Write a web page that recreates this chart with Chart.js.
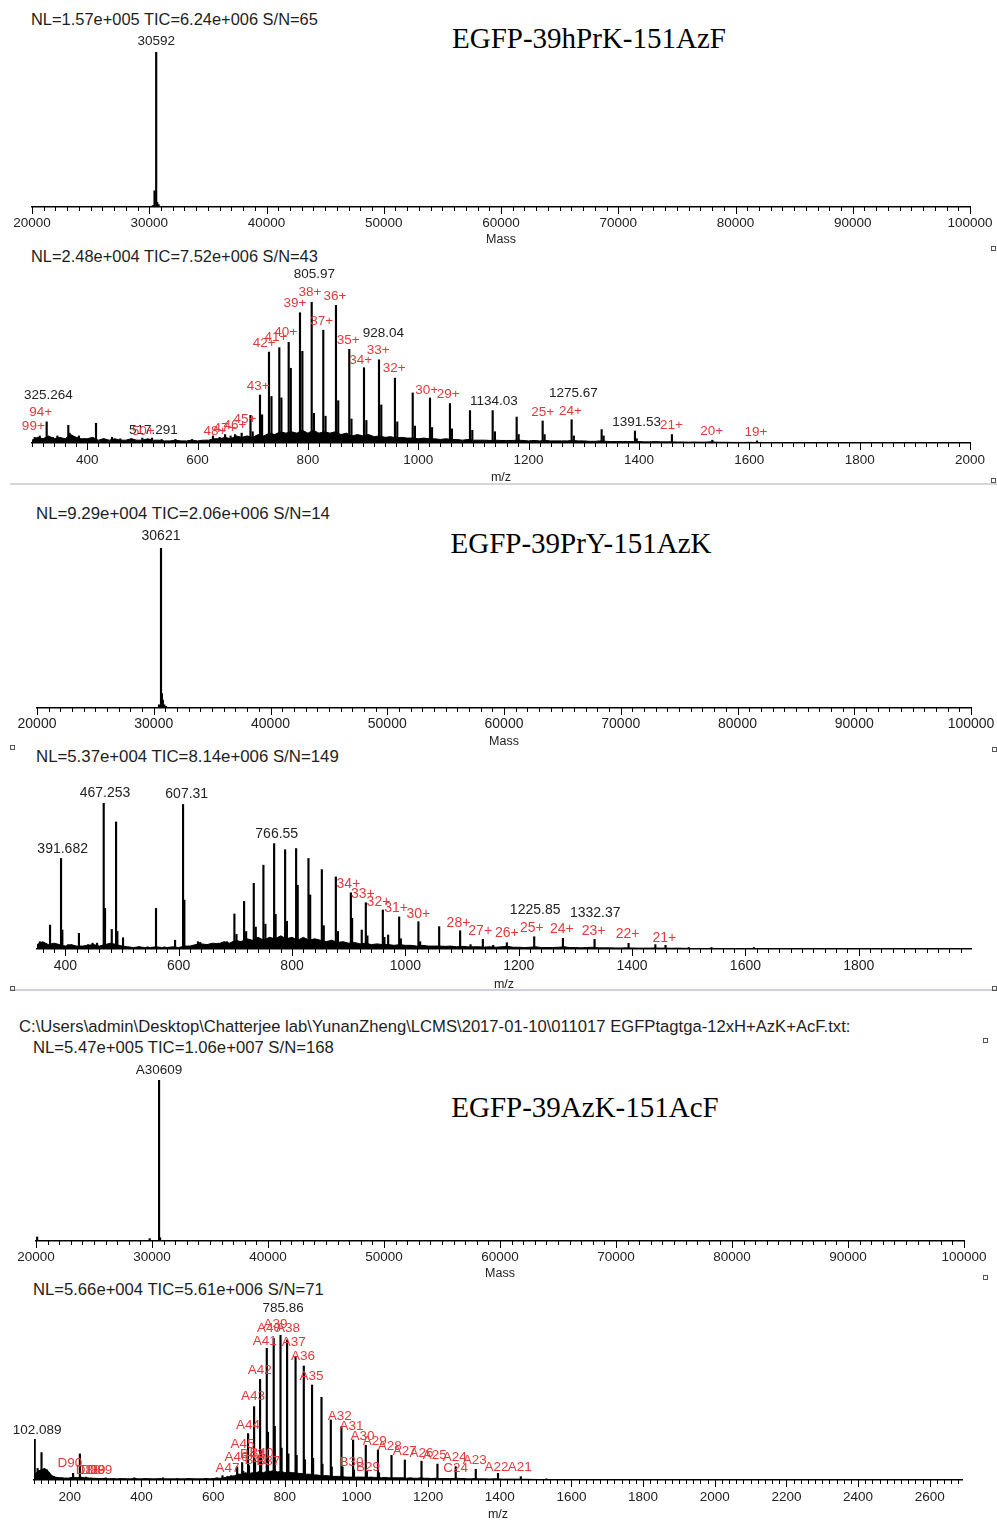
<!DOCTYPE html>
<html>
<head>
<meta charset="utf-8">
<script src="https://cdn.jsdelivr.net/npm/chart.js@4.4.0/dist/chart.umd.min.js"></script>
<style>
  body { margin: 0; background: #fff; width: 997px; height: 1521px; position: relative; overflow: hidden;
         font-family: "Liberation Sans", Arial, sans-serif; }
  canvas { position: absolute; }
  .hdr { position: absolute; display: inline-block; white-space: nowrap; font-size: 16px; line-height: 20px; color: #1e1e1e; }
  .ttl { position: absolute; white-space: nowrap; font-family: "Liberation Serif", "Times New Roman", serif;
         font-size: 29px; line-height: 34px; color: #000; transform: translateX(-50%); }
  .sep { position: absolute; left: 10px; width: 987px; height: 2px; }
  .mk { position: absolute; width: 3px; height: 3px; border: 1px solid #555; }
</style>
</head>
<body>

<div class="hdr" style="left:31px; top:9px" data-w="287">NL=1.57e+005 TIC=6.24e+006 S/N=65</div>
<div class="ttl" style="left:589px; top:21px">EGFP-39hPrK-151AzF</div>
<div class="hdr" style="left:31px; top:246px" data-w="287">NL=2.48e+004 TIC=7.52e+006 S/N=43</div>
<div class="sep" style="top:483px; background:#d6d6d6"></div>

<div class="hdr" style="left:36px; top:504px" data-w="294">NL=9.29e+004 TIC=2.06e+006 S/N=14</div>
<div class="ttl" style="left:581px; top:526px">EGFP-39PrY-151AzK</div>
<div class="hdr" style="left:36px; top:747px" data-w="303">NL=5.37e+004 TIC=8.14e+006 S/N=149</div>
<div class="sep" style="top:989px; background:#cbd3de"></div>

<div class="hdr" style="left:19px; top:1017px" data-w="832">C:\Users\admin\Desktop\Chatterjee lab\YunanZheng\LCMS\2017-01-10\011017 EGFPtagtga-12xH+AzK+AcF.txt:</div>
<div class="hdr" style="left:33px; top:1038px" data-w="301">NL=5.47e+005 TIC=1.06e+007 S/N=168</div>
<div class="ttl" style="left:585px; top:1090px">EGFP-39AzK-151AcF</div>
<div class="hdr" style="left:33px; top:1280px" data-w="291">NL=5.66e+004 TIC=5.61e+006 S/N=71</div>

<div class="mk" style="left:991px; top:246px"></div>
<div class="mk" style="left:991px; top:478px"></div>
<div class="mk" style="left:992px; top:747px"></div>
<div class="mk" style="left:992px; top:986px"></div>
<div class="mk" style="left:10px; top:745px"></div>
<div class="mk" style="left:10px; top:986px"></div>
<div class="mk" style="left:983px; top:1038px"></div>
<div class="mk" style="left:983px; top:1275px"></div>

<script>
// ---- deconvoluted mass spectra (relative intensity, %)
const mass1 = [30300, 30450, 30592, 30680, 30800];
const int1 = [1, 10.5, 100, 3, 1.5];
const mass3 = [30450, 30621, 30700, 30780, 30900, 31050];
const int3 = [2, 100, 9, 5, 2, 1];
const mass5 = [20100, 29800, 30609, 30700];
const int5 = [2.5, 1.5, 100, 2];

// ---- m/z spectrum, EGFP-39hPrK-151AzF
const mz2 = [305, 314, 326.6, 338, 346, 353, 365.8, 368, 376, 385, 395, 416, 430, 445, 460, 480, 500, 517.5, 535, 560, 590,
  628, 640, 650, 660, 668, 680, 696, 700, 713.2, 717, 729.5, 734, 748.2, 752, 765.2, 769, 785.7, 790, 806.9, 811,
  827.9, 832, 850.9, 855, 875, 879, 901.7, 906, 928.9, 933, 957.8, 962, 990, 994, 1021.3, 1025, 1057.5, 1061,
  1093.8, 1098, 1134.9, 1139, 1178.4, 1182, 1225.5, 1229, 1278, 1282, 1332.4, 1336, 1392.8, 1396, 1459.8, 1533, 1614];
const int2 = [4, 5, 15, 4, 5, 3, 12.5, 7, 4, 5, 3, 14, 3, 4, 3, 3, 3.5, 3.5, 2.5, 2.5, 2.5,
  5, 4, 6, 5, 6, 7, 19.6, 8, 34, 20, 64.5, 33, 67.6, 32, 71.4, 53, 92.4, 65, 100, 21,
  80, 19, 97.6, 30, 66.4, 17, 53.4, 16, 59, 27, 46, 15, 35.5, 12, 32, 11, 28, 10,
  23, 9, 23, 8, 18.4, 6, 15.6, 6, 16.5, 5, 9.5, 5, 8.5, 3, 6, 2, 1.5];
const noise2Start = 300, noise2Step = 10;
const noise2 = [2, 4, 3, 5, 3, 4, 3, 6, 4, 3,
  3, 4, 2, 3, 2, 3, 2, 2, 3, 2,
  2, 3, 2, 2, 1.5, 1.5, 2, 1.5, 1.5, 2,
  1.5, 2, 2, 3, 3, 4, 3, 5, 4, 5,
  4, 6, 5, 7, 6, 8, 7, 8, 7, 9,
  7, 9, 7, 8, 7, 8, 6, 7, 5, 6,
  5, 6, 4.5, 5, 4, 4.5, 3.5, 4, 3.5, 3.5,
  3, 3.5, 3, 3, 2.5, 3, 2.5, 2.5, 2, 2.5,
  2, 2, 2, 1.8, 2, 1.8, 1.8, 1.8, 2, 1.8,
  1.5, 1.8, 1.5, 1.8, 1.5, 1.5, 1.5, 1.5, 1.8, 1.5,
  1.5, 1.2, 1.2, 1.5, 1.2, 1, 1, 1, 1, 1,
  1, 0.8, 0.8, 1, 0.8, 0.8, 0.8, 0.7, 0.7, 0.6,
  0.7, 0.6, 0.6, 0.8, 0.6, 0.5, 0.5, 0.4, 0.4, 0.4,
  0.5, 0.4, 0.4, 0.3, 0.2, 0];
const black2 = [[329.6, 34, '325.264'], [520, 9.2, '517.291'], [811.6, 120, '805.97'], [936.7, 77.8, '928.04'],
  [1137, 29.8, '1134.03'], [1281, 35.2, '1275.67'], [1395.8, 14.7, '1391.53']];
const red2 = [[315.7, 21.5, '94+'], [302.4, 11.6, '99+'], [501.7, 8, '50+'], [631.6, 8.5, '48+'], [649.8, 10.4, '47+'],
  [668, 12.8, '46+'], [686, 17, '45+'], [710, 40, '43+'], [721, 71, '42+'], [742, 75, '41+'], [760, 78.2, '40+'],
  [776.6, 99, '39+'], [803.8, 107, '38+'], [825, 86.5, '37+'], [849, 103.8, '36+'], [873, 73, '35+'],
  [895.6, 58.9, '34+'], [927.6, 65.5, '33+'], [956.6, 52.7, '32+'], [1015.3, 37.6, '30+'], [1054.5, 34.8, '29+'],
  [1225.5, 21.8, '25+'], [1276, 22.7, '24+'], [1459, 12.8, '21+'], [1531.8, 8, '20+'], [1612, 7.3, '19+']];

// ---- m/z spectrum, EGFP-39PrY-151AzK
const mz4 = [355, 360, 373, 380, 392.4, 394.7, 405, 424, 440, 448, 456, 467.7, 470, 481.9, 489.5, 491.8, 501.8, 530, 545,
  560, 575, 593.6, 607.7, 610, 634, 638, 650, 670, 685, 698.3, 702, 715.4, 719, 732.5, 736, 749.5, 753, 768.4, 771,
  787.8, 791, 807.2, 810, 829, 832, 852.6, 856, 877.3, 881, 903.8, 906, 923, 930.2, 933, 960.2, 963, 969.6, 989, 992,
  1023, 1026, 1059.6, 1096.6, 1115, 1136.7, 1155, 1179, 1227.3, 1278, 1333.8, 1393.8, 1441, 1459, 1500, 1540, 1615];
const int4 = [5, 4, 16.4, 3, 62, 13, 3, 10.7, 3, 4, 4, 100, 27.8, 13.4, 87, 12, 7.7, 1.5, 1.5,
  27.8, 1.5, 6, 99, 33.5, 5, 4.5, 3, 4, 5, 24, 10, 32.6, 12, 45, 15, 57.4, 17, 72.2, 23.7,
  68, 19, 68.8, 43.7, 62, 37, 54.4, 16, 49.4, 12, 38.5, 21, 13, 31.7, 9, 26.7, 8, 9.6, 22, 7,
  18.7, 5, 15.3, 12.5, 3, 6.6, 2.5, 4.3, 8.4, 7.3, 6.6, 3.9, 3, 2.5, 1, 1, 1];
const noise4Start = 350, noise4Step = 10;
const noise4 = [3, 5, 3, 4, 3, 2, 3, 2, 2, 2.5,
  3, 2, 3, 4, 3, 2, 1.5, 1, 1.5, 1,
  1, 1.5, 1, 1, 1.5, 1, 2, 2, 3, 3.5,
  3, 4, 3.5, 5, 4, 6, 5, 7, 6, 8,
  6, 8, 7, 9, 7, 8, 6, 8, 6, 7,
  6, 5, 6, 4.5, 5, 4, 4.5, 3.5, 4, 3,
  3.5, 3, 3, 2.5, 3, 2.5, 2.5, 2, 2.5, 2,
  2, 2, 1.8, 2, 1.5, 1.8, 1.5, 1.5, 1.5, 1.3,
  1.5, 1.2, 1.5, 1.8, 1.2, 1.2, 1, 1.2, 1.5, 1,
  1, 1, 1.2, 1.5, 1, 1, 0.8, 1, 1.2, 0.8,
  0.8, 0.8, 0.7, 0.7, 0.8, 0.7, 0.6, 0.6, 0.6, 0.7,
  0.6, 0.6, 0.5, 0.6, 0.5, 0.4, 0.3, 0.4, 0.3, 0.4,
  0.3, 0.3, 0.2, 0.2, 0.2, 0.2, 0.2, 0];
const black4 = [[395.3, 68.3, '391.682'], [470, 106.6, '467.253'], [614.2, 106, '607.31'], [773, 78.8, '766.55'],
  [1229, 26.7, '1225.85'], [1335, 24.9, '1332.37']];
const red4 = [[899.5, 44.5, '34+'], [925, 37.7, '33+'], [952.5, 32.4, '32+'], [983.7, 27.9, '31+'], [1023, 24, '30+'],
  [1093.7, 18, '28+'], [1132, 12.5, '27+'], [1179, 11.2, '26+'], [1223, 14.6, '25+'], [1276, 13.5, '24+'],
  [1332, 12.3, '23+'], [1392, 10, '22+'], [1457, 7.7, '21+']];

// ---- m/z spectrum, EGFP-39AzK-151AcF
const mz6 = [102, 110, 116, 121, 125, 128, 132, 136, 140, 145, 155, 175, 190, 209, 228, 245, 260, 300, 340, 380, 420,
  460, 500, 540, 580, 610, 626, 640, 650, 667, 681, 684, 697.5, 700, 714.3, 717, 731, 734, 749.7, 753, 769, 772,
  788, 791, 806.4, 810, 830, 833, 853, 856, 876, 879, 902.4, 905, 928.4, 931, 958, 961, 990.6, 993, 1026, 1029,
  1060, 1063, 1097.8, 1135, 1181.5, 1226, 1277, 1333, 1395, 1458.6, 1530];
const int6 = [28, 8, 5, 18.9, 7, 7.5, 6.5, 7, 5, 3, 2, 1.5, 1.5, 4.6, 18, 2, 1.5, 1.5, 1, 1.5, 1,
  1.5, 1, 1, 1, 1.5, 3, 2.5, 3, 9, 12, 6, 32, 10, 50.6, 14, 69.4, 20, 90.8, 33, 97.7, 37,
  100, 22, 96.6, 18, 85, 17, 78.6, 14, 65.5, 15, 57, 11, 41.4, 9, 36.8, 9, 27.6, 7, 24, 6,
  20.7, 5, 17, 13.8, 13, 11, 9.2, 7.4, 4.6, 2.3, 0.8];
const noise6Start = 100, noise6Step = 10;
const noise6 = [3, 6, 7, 8, 6, 3, 2, 1.5, 1.5, 1,
  1.5, 2, 1.5, 2, 1.5, 1.5, 1, 1.2, 1, 1,
  1, 0.8, 1, 0.8, 0.8, 1, 0.8, 0.8, 1, 0.8,
  0.8, 1, 0.8, 0.8, 0.8, 1, 0.8, 0.8, 0.8, 0.8,
  0.8, 0.8, 0.8, 1, 0.8, 0.8, 0.8, 0.8, 1, 0.8,
  1, 1.2, 1.2, 1.5, 2, 2.5, 3, 4, 4, 5,
  4.5, 5, 5, 6, 5, 6, 6, 6.5, 5.5, 6,
  5, 5.5, 5, 5, 4.5, 4.5, 4, 4, 3.5, 3.5,
  3, 3, 3, 2.5, 2.5, 2.5, 2.5, 2, 2, 2,
  2, 2, 2, 1.8, 2, 1.8, 1.8, 1.5, 1.8, 1.5,
  1.5, 1.5, 1.5, 1.5, 1.2, 1.5, 1.2, 1.2, 1.5, 1.2,
  1.2, 1, 1.2, 1, 1, 1, 1, 1, 1.2, 1,
  1, 0.8, 0.8, 1, 0.8, 0.8, 0.8, 0.7, 0.8, 0.8,
  0.7, 0.6, 0.6, 0.6, 0.6, 0.6, 0.5, 0.5, 0.5, 0.4,
  0.4, 0.3, 0.3, 0.3, 0.2, 0];
const black6 = [[108.7, 34, '102.089'], [795.3, 118.4, '785.86']];
const red6 = [[200, 11.5, 'D90'], [251, 6.4, 'D88'], [265, 6.4, 'D89'], [283.6, 6.4, 'D89'],
  [640, 8, 'A47'], [665, 16, 'A46'], [682, 24.8, 'A45'], [697.6, 37.9, 'A44'], [711.5, 57.5, 'A43'],
  [730, 75.9, 'A42'], [744, 96, 'A41'], [756, 104.6, 'A40'], [774, 107.6, 'A39'], [809, 104.6, 'A38'],
  [825, 95, 'A37'], [851, 85, 'A36'], [874.5, 71.2, 'A35'], [953.5, 44, 'A32'], [986, 37.2, 'A31'],
  [1017, 29.9, 'A30'], [1051, 26.4, 'A29'], [1093, 23, 'A28'], [1135, 19.5, 'A27'], [1181.5, 18.4, 'A26'],
  [1218.6, 17.2, 'A25'], [1274, 16, 'A24'], [1330, 13.3, 'A23'], [1390.8, 8.5, 'A22'], [1456, 8.5, 'A21'],
  [986, 12, 'B30'], [1032.5, 8.8, 'B29'], [1277, 8, 'C24'], [708.8, 17.7, 'B42'], [735, 18.4, 'B40'],
  [753.5, 12.6, 'B37'], [721, 13.8, 'B41']];

const FONT = '"Liberation Sans", Arial, sans-serif';
const RED = '#e2393b';

// fit header texts to the width they have in the figure
document.querySelectorAll('[data-w]').forEach(el => {
  const w = el.getBoundingClientRect().width;
  el.style.fontSize = (16 * (+el.dataset.w) / w) + 'px';
});

function spectrum(cfg) {
  const padX = 40, padT = 50;
  const axisH = cfg.titleOff + 7;
  const cv = document.createElement('canvas');
  cv.width = cfg.R - cfg.L + 2 * padX;
  cv.height = padT + (cfg.base - cfg.top) + axisH;
  cv.style.left = (cfg.L - padX) + 'px';
  cv.style.top = (cfg.top - padT) + 'px';
  document.body.appendChild(cv);

  const datasets = [{
    type: 'bar',
    data: cfg.x.map((x, i) => ({ x: x, y: cfg.y[i] })),
    backgroundColor: '#000',
    barThickness: 1.5,
    borderWidth: 0
  }];
  if (cfg.noise) {
    datasets.push({
      type: 'line',
      data: cfg.noise.map((v, i) => ({ x: cfg.noiseStart + i * cfg.noiseStep, y: v })),
      borderColor: '#000',
      backgroundColor: '#000',
      borderWidth: 1,
      fill: 'origin',
      pointRadius: 0,
      tension: 0
    });
  }

  // minor / major tick marks under the axis line
  const tickMarks = {
    id: 'tickMarks',
    afterDraw(chart) {
      const xs = chart.scales.x, ctx = chart.ctx;
      ctx.save();
      ctx.strokeStyle = '#000';
      ctx.lineWidth = 1;
      ctx.beginPath();
      for (let v = Math.ceil(cfg.min / cfg.minor) * cfg.minor; v <= cfg.max; v += cfg.minor) {
        const px = Math.round(xs.getPixelForValue(v)) + 0.5;
        const len = v % cfg.major === 0 ? 7 : 4;
        ctx.moveTo(px, xs.top);
        ctx.lineTo(px, xs.top + len);
      }
      ctx.stroke();
      ctx.restore();
    }
  };

  // peak annotations
  const peakLabels = {
    id: 'peakLabels',
    afterDatasetsDraw(chart) {
      const xs = chart.scales.x, ys = chart.scales.y, ctx = chart.ctx;
      ctx.save();
      ctx.font = cfg.font + 'px ' + FONT;
      ctx.textAlign = 'center';
      ctx.textBaseline = 'middle';
      const draw = (list, color) => {
        ctx.fillStyle = color;
        (list || []).forEach(l => ctx.fillText(l[2], xs.getPixelForValue(l[0]), ys.getPixelForValue(l[1])));
      };
      draw(cfg.black, '#222');
      draw(cfg.red, RED);
      ctx.restore();
    }
  };

  new Chart(cv, {
    type: 'bar',
    data: { datasets: datasets },
    options: {
      responsive: false,
      animation: false,
      events: [],
      layout: { padding: { left: padX, right: padX, top: padT, bottom: 0 } },
      plugins: { legend: { display: false }, tooltip: { enabled: false } },
      scales: {
        x: {
          type: 'linear',
          min: cfg.min,
          max: cfg.max,
          offset: false,
          grid: { display: false, drawTicks: false },
          border: { display: true, color: '#000', width: 1.5 },
          // labelled ticks only at round multiples of the major step
          afterBuildTicks: s => {
            const t = [];
            for (let v = Math.ceil(cfg.min / cfg.major) * cfg.major; v <= cfg.max; v += cfg.major) t.push({ value: v });
            s.ticks = t;
          },
          ticks: {
            autoSkip: false,
            maxRotation: 0,
            padding: cfg.pad,
            color: '#222',
            font: { size: cfg.font, family: FONT },
            callback: v => String(v)
          },
          title: { display: true, text: cfg.title, color: '#222', padding: 0, font: { size: 12.5, family: FONT } },
          afterFit: s => { s.height = axisH; }
        },
        y: { display: false, min: 0, max: 100 }
      }
    },
    plugins: [tickMarks, peakLabels]
  });
}

spectrum({ L: 32, R: 970, base: 207, top: 52, min: 20000, max: 100000, minor: 1000, major: 10000, font: 13.5, pad: 8,
  title: 'Mass', titleOff: 33, x: mass1, y: int1, black: [[30592, 107, '30592']] });
spectrum({ L: 32, R: 970, base: 443, top: 302, min: 300, max: 2000, minor: 20, major: 200, font: 13.5, pad: 9,
  title: 'm/z', titleOff: 35, x: mz2, y: int2, noise: noise2, noiseStart: noise2Start, noiseStep: noise2Step,
  black: black2, red: red2 });
spectrum({ L: 37, R: 971, base: 708, top: 548, min: 20000, max: 100000, minor: 1000, major: 10000, font: 14, pad: 8,
  title: 'Mass', titleOff: 34, x: mass3, y: int3, black: [[30621, 107.5, '30621']] });
spectrum({ L: 37, R: 971, base: 949, top: 803, min: 350, max: 1998, minor: 20, major: 200, font: 14, pad: 9,
  title: 'm/z', titleOff: 36, x: mz4, y: int4, noise: noise4, noiseStart: noise4Start, noiseStep: noise4Step,
  black: black4, red: red4 });
spectrum({ L: 36, R: 964, base: 1241, top: 1080, min: 20000, max: 100000, minor: 1000, major: 10000, font: 13.5, pad: 8,
  title: 'Mass', titleOff: 33, x: mass5, y: int5, black: [[30609, 106, 'A30609']] });
spectrum({ L: 34, R: 962, base: 1480, top: 1335, min: 100, max: 2690, minor: 20, major: 200, font: 13.5, pad: 9,
  title: 'm/z', titleOff: 35, x: mz6, y: int6, noise: noise6, noiseStart: noise6Start, noiseStep: noise6Step,
  black: black6, red: red6 });
</script>
</body>
</html>
